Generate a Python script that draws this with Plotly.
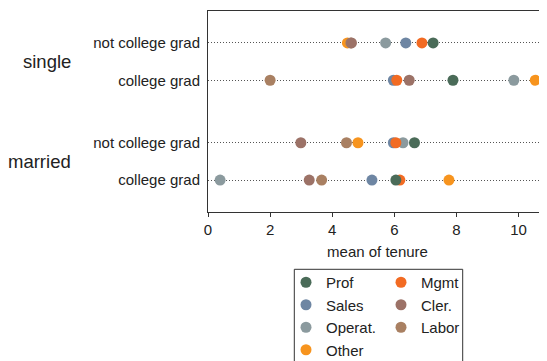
import plotly.graph_objects as go

# ---- data ----
groups = ["single", "married"]
row_labels = ["not college grad", "college grad", "not college grad", "college grad"]
occupations = ["Prof", "Mgmt", "Sales", "Cler.", "Operat.", "Labor", "Other"]
# mean tenure per occupation, rows: single/not, single/college, married/not, married/college
prof = [7.25, 7.89, 6.65, 6.05]
mgmt = [6.89, 6.08, 6.05, 6.18]
sales = [6.37, 5.97, 5.97, 5.28]
cler = [4.62, 6.48, 2.99, 3.26]
operat = [5.72, 9.85, 6.28, 0.39]
labor = [4.60, 2.00, 4.46, 3.66]
other = [4.49, 10.54, 4.83, 7.76]
x_ticks = [0, 2, 4, 6, 8, 10]

values = {"Prof": prof, "Mgmt": mgmt, "Sales": sales, "Cler.": cler,
          "Operat.": operat, "Labor": labor, "Other": other}
colors = {"Prof": "#4a6b58", "Mgmt": "#f26b23", "Sales": "#6e86a3", "Cler.": "#9c7267",
          "Operat.": "#8b9a9e", "Labor": "#a98062", "Other": "#f7941e"}
legend_of = {"Prof": ("legend", 1), "Sales": ("legend", 2), "Operat.": ("legend", 3),
             "Other": ("legend", 4), "Mgmt": ("legend2", 1), "Cler.": ("legend2", 2),
             "Labor": ("legend2", 3)}

# row positions: two rows per group, extra gap between groups
GAP = 1.672
ypos = []
for gi in range(len(groups)):
    for ri in range(2):
        ypos.append(gi * (1 + GAP) + ri)

FONT = "Liberation Sans, Arial, Helvetica, sans-serif"
OFF = 8  # page body margin of the html output
W, H = 547 - OFF, 361 - OFF
ML, MR, MT = 208 - OFF, 0, 11 - OFF
MB = H - (212 - OFF)
PW, PH = W - ML - MR, H - MT - MB

def px2paper_x(px):
    return (px - OFF - ML) / PW

def px2paper_y(py):
    return (H - MB - (py - OFF)) / PH

def cont_x(px):
    return (px - OFF) / W

def cont_y(py):
    return 1 - (py - OFF) / H

fig = go.Figure()
for occ in reversed(occupations):
    lg, rank = legend_of[occ]
    fig.add_trace(go.Scatter(
        x=values[occ], y=ypos, mode="markers", name=occ,
        marker=dict(color=colors[occ], size=11, line=dict(width=0)),
        legend=lg, legendrank=rank, showlegend=True,
    ))

fig.update_layout(
    width=W, height=H,
    margin=dict(l=ML, r=MR, t=MT, b=MB, autoexpand=False),
    paper_bgcolor="white", plot_bgcolor="white",
    font=dict(family=FONT, size=15, color="#222"),
    xaxis=dict(
        range=[0, PW / 31.05], tickvals=x_ticks, ticks="outside", ticklen=4,
        tickcolor="#333", showline=True, linecolor="#333", linewidth=1, mirror=True,
        showgrid=False, zeroline=False,
        title=dict(text="mean of tenure", font=dict(size=15), standoff=9),
        tickfont=dict(size=15), automargin=False,
    ),
    yaxis=dict(
        range=[ypos[-1] + 0.853, -0.853], tickvals=ypos, ticktext=row_labels,
        ticks="", showline=True, linecolor="#333", linewidth=1, mirror=False,
        showgrid=True, gridcolor="#555", gridwidth=1, griddash="1px,2px",
        zeroline=False, ticklabelstandoff=4, tickfont=dict(size=15), automargin=False,
    ),
    legend=dict(xref="container", yref="container", x=cont_x(286), y=cont_y(266),
                xanchor="left", yanchor="top", bgcolor="rgba(0,0,0,0)",
                borderwidth=0, font=dict(size=15), orientation="v"),
    legend2=dict(xref="container", yref="container", x=cont_x(381), y=cont_y(266),
                 xanchor="left", yanchor="top", bgcolor="rgba(0,0,0,0)",
                 borderwidth=0, font=dict(size=15), orientation="v"),
    showlegend=True,
)

# legend frame
fig.add_shape(type="rect", xref="paper", yref="paper",
              x0=px2paper_x(294.3), x1=px2paper_x(462.7),
              y0=px2paper_y(375), y1=px2paper_y(269.3),
              line=dict(color="#333", width=1), fillcolor="rgba(0,0,0,0)", layer="above")

# group labels
for gi, g in enumerate(groups):
    fig.add_annotation(text=g, xref="paper", yref="y", x=px2paper_x(73),
                       y=(ypos[2 * gi] + ypos[2 * gi + 1]) / 2,
                       xanchor="right", yanchor="middle", showarrow=False,
                       font=dict(size=18.5, color="#222"))

fig.write_html("out.html")
